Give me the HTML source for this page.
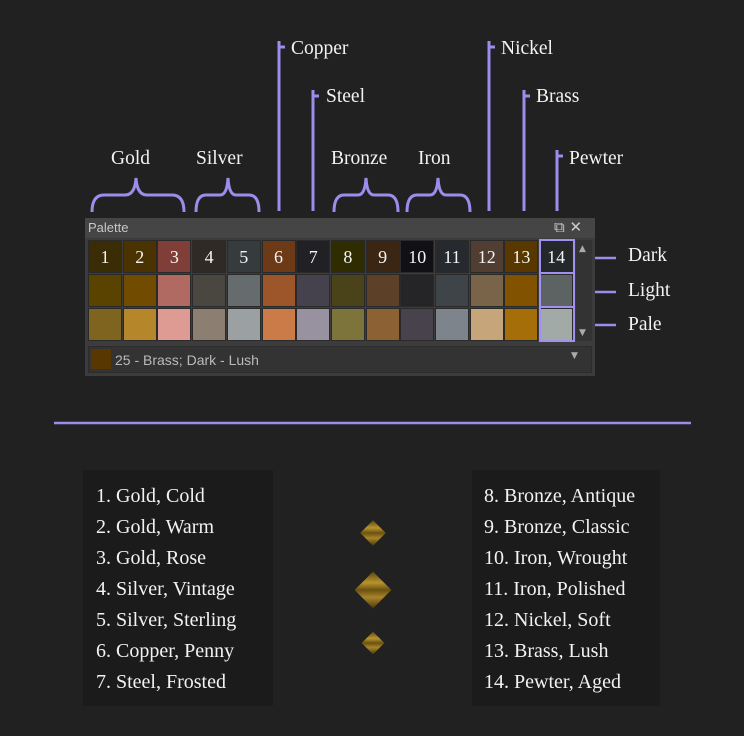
<!DOCTYPE html>
<html><head><meta charset="utf-8"><style>
body{margin:0;width:744px;height:736px;background:#212121;position:relative;overflow:hidden;font-family:"Liberation Serif",serif;color:#f2f2f2}
.a{position:absolute}
.t{position:absolute;font-size:19.5px;line-height:20px;white-space:nowrap}
.c{position:absolute;width:34px;height:33px;box-sizing:border-box;border:1px solid #2a2a2a;color:#f4f4f4;font-size:18px;text-align:center;line-height:32px}
.box{position:absolute;background:#1b1b1b}
.box div{font-size:20px;height:31px;line-height:31px;white-space:nowrap}
.d{position:absolute;transform:rotate(45deg);background:linear-gradient(135deg,#5a450c,#b8942e 30%,#6b5210 50%,#a8842a 70%,#4a380a)}
</style></head><body>
<svg class="a" style="left:0;top:0" width="744" height="736">
<g stroke="#9d8cec" stroke-width="3" fill="none">
<path d="M279 211V41M279 47h6M313 211V90M313 96h6M489 211V41M489 47h6M524 211V90M524 96h6M557 211V150M557 156h6"/>
<path d="M92 212q0-17 12-17h21q10 0 11-17q1 17 11 17h25q12 0 12 17"/>
<path d="M196 212q0-17 10-17h14q7 0 8-17q1 17 8 17h13q10 0 10 17"/>
<path d="M334 212q0-17 10-17h14q7 0 8-17q1 17 8 17h14q10 0 10 17"/>
<path d="M407 212q0-17 10-17h13q7 0 8-17q1 17 8 17h14q10 0 10 17"/>
<path d="M576 258h40M576 292h40M576 325h40" stroke-width="2.5"/>
<path d="M54 423H691" stroke-width="2.5"/>
</g></svg>
<div class="t" style="left:111px;top:149px">Gold</div>
<div class="t" style="left:196px;top:149px">Silver</div>
<div class="t" style="left:331px;top:149px">Bronze</div>
<div class="t" style="left:418px;top:149px">Iron</div>
<div class="t" style="left:291px;top:39px">Copper</div>
<div class="t" style="left:326px;top:87px">Steel</div>
<div class="t" style="left:501px;top:39px">Nickel</div>
<div class="t" style="left:536px;top:87px">Brass</div>
<div class="t" style="left:569px;top:149px">Pewter</div>
<div class="t" style="left:628px;top:246px">Dark</div>
<div class="t" style="left:628px;top:281px">Light</div>
<div class="t" style="left:628px;top:315px">Pale</div>

<div class="a" style="left:85px;top:218px;width:510px;height:158px;background:#3c3c3c"></div>
<div class="a" style="left:85px;top:218px;width:510px;height:20px;background:#454545"></div>
<div class="a" style="left:88px;top:220px;font-family:'Liberation Sans',sans-serif;font-size:13px;color:#c8c8c8">Palette</div>
<div class="a" style="left:554px;top:218px;font-family:'DejaVu Sans',sans-serif;font-size:15px;color:#ccc">⧉ ✕</div>
<div class="a" style="left:576px;top:240px;width:16px;height:101px;background:#333"></div>
<div class="a" style="left:579px;top:244px;font-size:9px;color:#aaa;font-family:'DejaVu Sans'">▲</div>
<div class="a" style="left:579px;top:328px;font-size:9px;color:#aaa;font-family:'DejaVu Sans'">▼</div>
<div class="a" style="left:88px;top:346px;width:504px;height:27px;background:#333;border:1px solid #2c2c2c;box-sizing:border-box"></div>
<div class="a" style="left:91px;top:349px;width:20px;height:20px;background:#583800"></div>
<div class="a" style="left:115px;top:352px;font-family:'Liberation Sans',sans-serif;font-size:14px;color:#bbb">25 - Brass; Dark - Lush</div>
<div class="a" style="left:571px;top:351px;font-size:9px;color:#aaa;font-family:'DejaVu Sans'">▼</div>
<div id="g"></div>
<script>
var r1=["#3a2c05","#4a3300","#7f3e38","#302a26","#363c3e","#6c3a16","#202025","#2f2c00","#3a2612","#111014","#262a2e","#4f3e31","#593800","#25282b"];
var r2=["#5a4200","#714c00","#b06a62","#4a4640","#666b6d","#9d5629","#45424d","#4a431a","#5d4028","#252527","#3f4449","#7a6449","#815200","#5d6263"];
var r3=["#7f6420","#b5862a","#dd9b94","#8c7f72","#9ba0a3","#cb7b47","#9891a0","#7c743a","#8c6234","#47424b","#7d848b","#c7a57b","#a66e08","#a1aaa6"];
var h="";
[r1,r2,r3].forEach(function(r,j){r.forEach(function(c,i){h+='<div class="c" style="left:'+(88+i*34.7)+'px;top:'+(240+j*34)+'px;background:'+c+'">'+(j==0?(i+1):'')+'</div>';});});
h+='<div class="a" style="left:539px;top:239px;width:36px;height:103px;box-sizing:border-box;border:2px solid #a090f0"></div>';
h+='<div class="a" style="left:539px;top:272px;width:36px;height:2px;background:#a090f0"></div><div class="a" style="left:539px;top:306px;width:36px;height:2px;background:#a090f0"></div>';
document.getElementById("g").innerHTML=h;
</script>

<div class="box" style="left:83px;top:470px;width:190px;height:236px;padding:11px 0 0 13px;box-sizing:border-box">
<div>1. Gold, Cold</div><div>2. Gold, Warm</div><div>3. Gold, Rose</div><div>4. Silver, Vintage</div><div>5. Silver, Sterling</div><div>6. Copper, Penny</div><div>7. Steel, Frosted</div></div>
<div class="box" style="left:472px;top:470px;width:188px;height:236px;padding:11px 0 0 12px;box-sizing:border-box">
<div>8. Bronze, Antique</div><div>9. Bronze, Classic</div><div>10. Iron, Wrought</div><div>11. Iron, Polished</div><div>12. Nickel, Soft</div><div>13. Brass, Lush</div><div>14. Pewter, Aged</div></div>

<div class="d" style="left:364px;top:524px;width:18px;height:18px"></div>
<div class="d" style="left:360px;top:577px;width:26px;height:26px"></div>
<div class="d" style="left:365px;top:635px;width:16px;height:16px"></div>
</body></html>
